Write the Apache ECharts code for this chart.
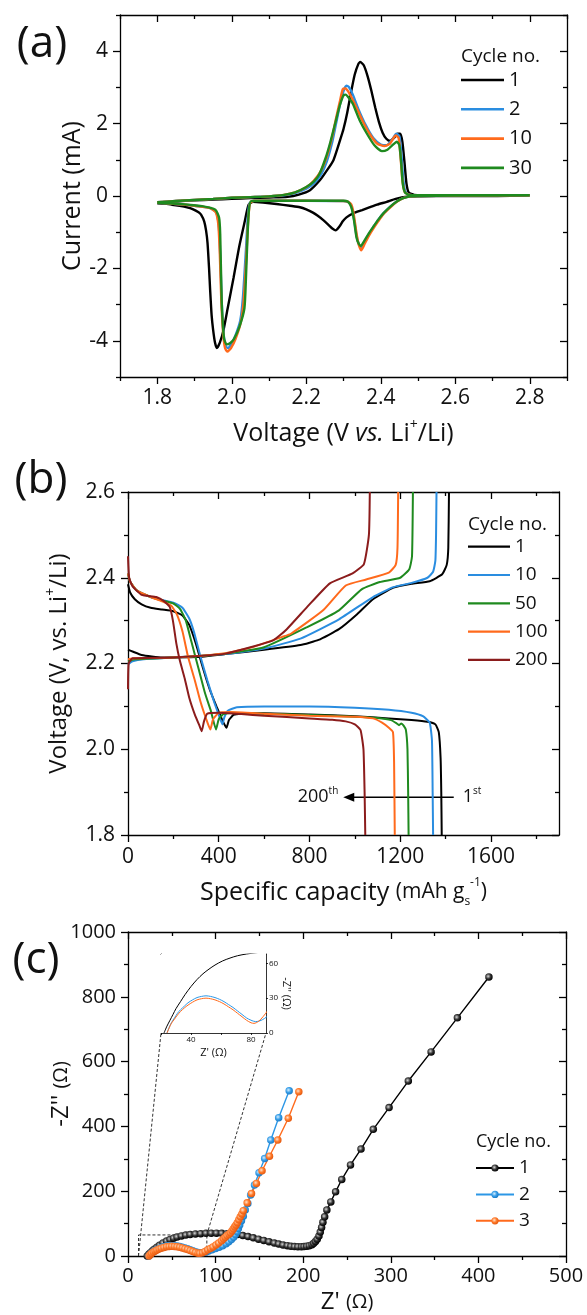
<!DOCTYPE html>
<html><head><meta charset="utf-8">
<script src="https://cdn.jsdelivr.net/npm/echarts@6/dist/echarts.min.js"></script>
<style>html,body{margin:0;padding:0;background:#fff}#c{width:587px;height:1315px}</style>
</head><body><div id="c"></div>
<script>
// ---------------- DATA ----------------
// (a) cyclic voltammetry: [voltage V, current mA]
const cvCycles = ['1', '2', '10', '30'];
const cv1 = [[1.8,-0.18],[1.85,-0.15],[1.9,-0.12],[1.95,-0.1],[2.0,-0.08],[2.05,-0.06],[2.1,-0.04],[2.15,-0.02],[2.18,0.04],[2.21,0.16],[2.237,0.44],[2.255,0.7],[2.273,0.99],[2.291,1.55],[2.30,1.85],[2.31,2.3],[2.32,2.85],[2.33,3.35],[2.34,3.65],[2.345,3.7],[2.355,3.6],[2.365,3.3],[2.375,2.9],[2.385,2.45],[2.395,2.05],[2.405,1.75],[2.415,1.58],[2.425,1.52],[2.435,1.6],[2.445,1.72],[2.452,1.72],[2.458,1.5],[2.464,0.9],[2.469,0.35],[2.475,0.1],[2.49,0.03],[2.55,0.02],[2.65,0.02],[2.8,0.02],
  [2.7,0.0],[2.6,0.0],[2.5,-0.01],[2.47,-0.02],[2.44,-0.08],[2.416,-0.16],[2.39,-0.24],[2.371,-0.31],[2.35,-0.39],[2.326,-0.48],[2.308,-0.59],[2.298,-0.7],[2.29,-0.83],[2.279,-0.95],[2.27,-0.9],[2.263,-0.83],[2.245,-0.66],[2.23,-0.54],[2.218,-0.46],[2.2,-0.37],[2.183,-0.31],[2.156,-0.27],[2.12,-0.22],[2.084,-0.18],[2.057,-0.16],[2.045,-0.25],[2.035,-0.7],[2.02,-1.4],[2.005,-2.25],[1.99,-3.05],[1.978,-3.7],[1.968,-4.05],[1.96,-4.2],[1.955,-4.05],[1.95,-3.7],[1.946,-3.3],[1.942,-2.6],[1.939,-1.98],[1.935,-1.3],[1.931,-0.95],[1.926,-0.7],[1.918,-0.52],[1.911,-0.45],[1.895,-0.36],[1.88,-0.31],[1.86,-0.27],[1.84,-0.24],[1.82,-0.21],[1.8,-0.2]];
const cv2 = [[1.8,-0.17],[1.85,-0.14],[1.9,-0.11],[1.95,-0.08],[2.0,-0.05],[2.05,-0.03],[2.1,-0.01],[2.14,0.02],[2.17,0.08],[2.2,0.2],[2.22,0.35],[2.24,0.6],[2.255,0.95],[2.27,1.5],[2.28,2.0],[2.29,2.5],[2.30,2.9],[2.308,3.05],[2.315,3.0],[2.325,2.8],[2.34,2.4],[2.36,1.95],[2.38,1.6],[2.40,1.42],[2.415,1.4],[2.43,1.55],[2.442,1.72],[2.45,1.65],[2.455,1.2],[2.46,0.5],[2.465,0.15],[2.475,0.04],[2.5,0.02],[2.65,0.02],[2.8,0.02],
  [2.6,0.01],[2.5,0.0],[2.48,-0.01],[2.46,-0.06],[2.443,-0.15],[2.425,-0.3],[2.407,-0.48],[2.393,-0.66],[2.38,-0.86],[2.368,-1.05],[2.357,-1.25],[2.347,-1.42],[2.34,-1.3],[2.335,-1.1],[2.33,-0.75],[2.325,-0.45],[2.32,-0.25],[2.312,-0.16],[2.3,-0.14],[2.2,-0.13],[2.1,-0.13],[2.06,-0.13],[2.048,-0.2],[2.043,-0.6],[2.038,-1.5],[2.03,-2.8],[2.023,-3.43],[2.01,-3.85],[1.998,-4.1],[1.99,-4.2],[1.984,-4.15],[1.978,-3.8],[1.973,-2.9],[1.969,-1.6],[1.965,-0.8],[1.958,-0.45],[1.94,-0.33],[1.9,-0.27],[1.85,-0.22],[1.8,-0.19]];
const cv10 = [[1.8,-0.17],[1.85,-0.14],[1.9,-0.11],[1.95,-0.08],[2.0,-0.05],[2.05,-0.03],[2.1,-0.01],[2.14,0.03],[2.17,0.1],[2.2,0.24],[2.22,0.42],[2.24,0.7],[2.255,1.08],[2.27,1.65],[2.28,2.15],[2.29,2.6],[2.298,2.95],[2.305,2.97],[2.315,2.85],[2.33,2.55],[2.35,2.1],[2.37,1.72],[2.39,1.45],[2.41,1.38],[2.425,1.45],[2.44,1.67],[2.448,1.6],[2.453,1.1],[2.458,0.45],[2.464,0.12],[2.475,0.04],[2.5,0.02],[2.65,0.02],[2.8,0.02],
  [2.6,0.01],[2.5,0.0],[2.48,-0.01],[2.46,-0.06],[2.443,-0.16],[2.425,-0.32],[2.407,-0.5],[2.393,-0.7],[2.38,-0.9],[2.368,-1.1],[2.357,-1.32],[2.348,-1.5],[2.341,-1.35],[2.336,-1.1],[2.331,-0.75],[2.326,-0.42],[2.32,-0.22],[2.31,-0.15],[2.3,-0.14],[2.2,-0.13],[2.1,-0.13],[2.06,-0.13],[2.049,-0.2],[2.044,-0.7],[2.039,-1.7],[2.032,-2.9],[2.024,-3.5],[2.01,-3.95],[1.998,-4.2],[1.988,-4.3],[1.982,-4.2],[1.977,-3.8],[1.972,-2.9],[1.968,-1.6],[1.964,-0.8],[1.957,-0.45],[1.94,-0.33],[1.9,-0.27],[1.85,-0.22],[1.8,-0.19]];
const cv30 = [[1.8,-0.17],[1.85,-0.14],[1.9,-0.11],[1.95,-0.08],[2.0,-0.05],[2.05,-0.03],[2.1,-0.01],[2.14,0.03],[2.17,0.1],[2.2,0.25],[2.22,0.4],[2.235,0.6],[2.252,1.05],[2.265,1.5],[2.28,2.1],[2.29,2.5],[2.3,2.78],[2.306,2.8],[2.315,2.7],[2.325,2.55],[2.343,2.1],[2.363,1.72],[2.383,1.4],[2.403,1.24],[2.418,1.28],[2.433,1.42],[2.443,1.5],[2.45,1.4],[2.455,0.9],[2.459,0.35],[2.465,0.1],[2.475,0.03],[2.5,0.02],[2.65,0.02],[2.8,0.02],
  [2.6,0.01],[2.5,0.0],[2.479,-0.01],[2.46,-0.06],[2.443,-0.15],[2.425,-0.3],[2.407,-0.48],[2.393,-0.66],[2.38,-0.85],[2.368,-1.03],[2.357,-1.22],[2.346,-1.38],[2.34,-1.3],[2.335,-1.15],[2.328,-0.66],[2.321,-0.31],[2.312,-0.16],[2.299,-0.13],[2.2,-0.13],[2.1,-0.13],[2.052,-0.14],[2.046,-0.4],[2.042,-1.2],[2.038,-2.3],[2.034,-3.1],[2.021,-3.6],[2.006,-3.95],[1.996,-4.06],[1.986,-4.1],[1.979,-3.92],[1.973,-2.9],[1.969,-1.05],[1.966,-0.6],[1.956,-0.38],[1.92,-0.28],[1.86,-0.22],[1.8,-0.185]];

// (b) galvanostatic profiles: [capacity mAh/g, voltage V]
const gcdCycles = ['1', '10', '50', '100', '200'];
const dis1 = [[0,2.385],[10,2.365],[30,2.35],[60,2.338],[100,2.33],[150,2.326],[200,2.322],[240,2.312],[270,2.29],[300,2.245],[330,2.19],[360,2.14],[390,2.1],[410,2.075],[425,2.058],[434,2.05],[445,2.068],[465,2.08],[500,2.083],[600,2.084],[800,2.081],[1000,2.077],[1150,2.072],[1250,2.068],[1320,2.064],[1355,2.058],[1370,2.04],[1378,1.98],[1381,1.9],[1383,1.8]];
const chg1 = [[0,2.232],[20,2.228],[60,2.22],[150,2.214],[300,2.215],[430,2.222],[600,2.232],[760,2.243],[840,2.255],[930,2.28],[1010,2.315],[1080,2.35],[1170,2.377],[1250,2.386],[1330,2.392],[1385,2.408],[1405,2.43],[1412,2.47],[1415,2.6]];
const dis10 = [[0,2.41],[10,2.39],[40,2.37],[100,2.355],[150,2.348],[200,2.342],[240,2.33],[270,2.305],[290,2.275],[320,2.215],[350,2.16],[380,2.11],[400,2.08],[416,2.058],[425,2.075],[440,2.09],[480,2.098],[600,2.1],[800,2.1],[1000,2.097],[1150,2.092],[1250,2.085],[1300,2.077],[1330,2.062],[1340,2.02],[1343,1.9],[1345,1.8]];
const chg10 = [[0,2.198],[20,2.205],[70,2.21],[200,2.214],[430,2.222],[600,2.235],[760,2.258],[930,2.303],[1080,2.355],[1170,2.378],[1250,2.388],[1320,2.4],[1345,2.414],[1355,2.44],[1358,2.5],[1360,2.6]];
const dis50 = [[0,2.41],[10,2.39],[40,2.37],[100,2.355],[150,2.347],[200,2.34],[230,2.327],[255,2.3],[280,2.25],[310,2.19],[340,2.13],[365,2.09],[388,2.046],[400,2.07],[420,2.082],[460,2.085],[600,2.083],[800,2.08],[1000,2.076],[1100,2.073],[1160,2.068],[1185,2.06],[1195,2.056],[1205,2.06],[1215,2.055],[1225,2.045],[1232,2.0],[1235,1.9],[1237,1.8]];
const chg50 = [[0,2.205],[30,2.21],[200,2.214],[430,2.223],[600,2.238],[790,2.285],[930,2.324],[1030,2.373],[1110,2.39],[1200,2.4],[1240,2.42],[1252,2.45],[1256,2.6]];
const dis100 = [[0,2.41],[10,2.39],[40,2.37],[100,2.355],[150,2.345],[190,2.335],[215,2.315],[240,2.275],[265,2.215],[295,2.16],[320,2.11],[345,2.07],[363,2.046],[375,2.07],[400,2.085],[450,2.087],[600,2.083],[800,2.078],[1000,2.076],[1080,2.072],[1120,2.062],[1150,2.05],[1168,2.04],[1173,1.97],[1176,1.8]];
const chg100 = [[0,2.21],[30,2.212],[200,2.214],[430,2.224],[560,2.24],[680,2.262],[720,2.27],[860,2.324],[960,2.382],[1050,2.396],[1150,2.412],[1180,2.43],[1188,2.47],[1191,2.6]];
const dis200 = [[0,2.45],[5,2.4],[20,2.38],[60,2.36],[125,2.355],[160,2.345],[184,2.332],[198,2.3],[213,2.247],[228,2.208],[250,2.165],[270,2.12],[295,2.08],[315,2.055],[325,2.042],[335,2.065],[350,2.083],[400,2.085],[500,2.082],[600,2.078],[800,2.072],[900,2.069],[960,2.065],[1000,2.058],[1025,2.045],[1038,2.0],[1043,1.9],[1046,1.8]];
const chg200 = [[0,2.14],[3,2.2],[20,2.212],[200,2.214],[430,2.223],[640,2.254],[700,2.28],[790,2.332],[890,2.387],[990,2.41],[1040,2.432],[1062,2.5],[1066,2.6]];

// (c) Nyquist plots: [Z' ohm, -Z'' ohm]
const eisCycles = ['1', '2', '3'];
const eis1 = [[22,0],[24,6],[26,11],[28,16],[30,21],[33,27],[36,33],[40,40],[44,46],[48,51],[52,55],[56,58.5],[61,62],[66,64.5],[71,66.5],[77,68],[83,69],[89,70],[95,70.5],[101,70.5],[107,70],[113,69],[119,68],[125,66],[131,63],[137,60],[143,56],[149,52],[155,48],[161,44],[167,40],[172,37],[177,34],[182,32],[186,30],[190,29],[194,28.5],[198,28.5],[201,29],[204,30],[207,32],[210,35],[212,39],[214,45],[216,52],[218,62],[219.5,74],[221,88],[222.5,104],[224.5,121],[227,142],[231.5,167],[237,198],[244,236],[254,281],[266,330],[280,391],[298,458],[320,540],[346,630],[376,735],[412,861]];
const eis2 = [[24,0],[25.5,5],[27,9],[29,13],[31,17],[33,20],[35.5,23],[38,26],[41,28.5],[44,30.5],[47,31.5],[50,32],[53,31.5],[56,30.5],[59,29],[62,27],[65,24.5],[68,22],[71,19],[74,16],[77,13],[80,11],[83,9.8],[86,10.5],[89,12.5],[92,15.5],[96,19],[100,23],[104,27],[108,32],[112,38],[115,44],[118,51],[120.5,58],[122.5,66],[124.5,75],[126,85],[127.5,96],[129.5,109],[131.6,123],[133.8,142],[136.8,162],[140,188],[144.4,219],[149.6,257],[156,301],[163,358],[172,427],[184,510]];
const eis3 = [[24,0],[25.5,4.5],[27,8.5],[29,12],[31,15.5],[33,18.5],[35.5,21.5],[38,24],[41,26.5],[44,28.5],[47,29.5],[50,30],[53,29.5],[56,28.5],[59,27],[62,25],[65,22.5],[68,20],[71,17],[74,14],[77,11],[80,8.8],[82,8.3],[85,10],[88,14],[91,19],[94,23.5],[97,28],[100.4,34],[103.5,40],[106.8,47],[109,53],[111,58],[113,63],[115.4,67],[117,72],[118.8,78],[120.3,84],[121.8,90],[123.3,96],[124.8,103],[126.5,112],[128.2,121],[130,130],[131.6,140],[136,164],[141,193],[146.6,224],[153,263],[161.5,308],[171,358],[183,425],[195,507]];

// tick values
const aXTicks = [1.8, 2.0, 2.2, 2.4, 2.6, 2.8], aXMinor = [1.7, 1.9, 2.1, 2.3, 2.5, 2.7, 2.9];
const aYTicks = [-4, -2, 0, 2, 4], aYMinor = [-5, -3, -1, 1, 3, 5];
const bXTicks = [0, 400, 800, 1200, 1600], bXMinor = [200, 600, 1000, 1400, 1800];
const bYTicks = [1.8, 2.0, 2.2, 2.4, 2.6], bYMinor = [1.9, 2.1, 2.3, 2.5];
const cXTicks = [0, 100, 200, 300, 400, 500], cXMinor = [50, 150, 250, 350, 450];
const cYTicks = [0, 200, 400, 600, 800, 1000], cYMinor = [100, 300, 500, 700, 900];
const insXTicks = [20, 40, 60, 80], insXLabels = [40, 80], insYTicks = [0, 30, 60];

// annotations (data coordinates)
const arrowFrom = [1436, 1.888], arrowTo = [949, 1.888];
const zoomBox = [[12, 0], [12, 65], [90, 65], [90, 0]];

// ---------------- STYLE ----------------
const FONT = '"Open Sans", "DejaVu Sans", sans-serif';
const TXT = '#111';
const BLACK = '#000000', BLUE = '#2a8de0', ORANGE = '#ff6a1c', GREEN = '#1f8a1f', DRED = '#8b1c1c';
const LS = {color: '#000', width: 1.3};

const xAxes = [], yAxes = [];
function mkAxes(list, grid, dim, c) {
  const posA = dim === 'x' ? 'bottom' : 'left', posB = dim === 'x' ? 'top' : 'right';
  const base = {type: 'value', gridIndex: grid, min: c.min, max: c.max, splitLine: {show: false}, axisPointer: {show: false}};
  const idx = list.length;
  list.push(Object.assign({}, base, {
    position: posA,
    axisLine: {show: true, onZero: false, lineStyle: LS},
    axisTick: {show: true, inside: false, length: 7, customValues: c.major, lineStyle: LS},
    axisLabel: {show: true, customValues: c.major, margin: c.margin, fontSize: c.fs, fontFamily: FONT, color: TXT, formatter: c.fmt},
    name: c.name || '', nameLocation: 'middle', nameGap: c.nameGap || 0, nameMoveOverlap: false,
    nameRotate: dim === 'y' ? 90 : 0, nameTextStyle: c.nameStyle || {}
  }));
  list.push(Object.assign({}, base, {
    position: posA, axisLine: {show: false, onZero: false},
    axisTick: {show: true, inside: false, length: 4, customValues: c.minor, lineStyle: LS},
    axisLabel: {show: false}
  }));
  list.push(Object.assign({}, base, {
    position: posB, axisLine: {show: true, onZero: false, lineStyle: LS},
    axisTick: {show: true, inside: true, length: 7, customValues: c.major, lineStyle: LS},
    axisLabel: {show: false}
  }));
  list.push(Object.assign({}, base, {
    position: posB, axisLine: {show: false, onZero: false},
    axisTick: {show: true, inside: true, length: 4, customValues: c.minor, lineStyle: LS},
    axisLabel: {show: false}
  }));
  return idx;
}
function nameStyle(fs, rich) {
  const r = {};
  for (const k in rich) r[k] = Object.assign({fontFamily: FONT, color: TXT, fontSize: fs, lineHeight: fs + 6}, rich[k]);
  return {fontFamily: FONT, fontSize: fs, color: TXT, lineHeight: fs + 6, rich: r};
}
const f1 = v => v.toFixed(1), f0 = v => String(Math.round(v));

// panel (a)
const aX = mkAxes(xAxes, 0, 'x', {min: 1.7, max: 2.9, major: aXTicks, minor: aXMinor, fs: 21, margin: 11, fmt: f1,
  name: 'Voltage (V {it|vs.} Li{sup|+}/Li)', nameGap: 41,
  nameStyle: nameStyle(25, {it: {fontStyle: 'italic'}, sup: {fontSize: 14, verticalAlign: 'top'}})});
const aY = mkAxes(yAxes, 0, 'y', {min: -5, max: 5, major: aYTicks, minor: aYMinor, fs: 21, margin: 12, fmt: f0,
  name: 'Current (mA)', nameGap: 32, nameStyle: nameStyle(25, {})});
// panel (b)
const bX = mkAxes(xAxes, 1, 'x', {min: 0, max: 1900, major: bXTicks, minor: bXMinor, fs: 21, margin: 12, fmt: f0,
  name: 'Specific capacity {m|(mAh g}{sub|s}{sup|-1}{m|)}', nameGap: 42,
  nameStyle: nameStyle(25, {m: {fontSize: 21}, sub: {fontSize: 12, verticalAlign: 'bottom'}, sup: {fontSize: 12, verticalAlign: 'top'}})});
const bY = mkAxes(yAxes, 1, 'y', {min: 1.8, max: 2.6, major: bYTicks, minor: bYMinor, fs: 21, margin: 13, fmt: f1,
  name: 'Voltage (V, vs. Li{sup|+}/Li)', nameGap: 54,
  nameStyle: nameStyle(24, {sup: {fontSize: 14, verticalAlign: 'top'}})});
// panel (c)
const cX = mkAxes(xAxes, 2, 'x', {min: 0, max: 500, major: cXTicks, minor: cXMinor, fs: 20, margin: 10, fmt: f0,
  name: "Z' {m|(Ω)}", nameGap: 31, nameStyle: nameStyle(24, {m: {fontSize: 20}})});
const cY = mkAxes(yAxes, 2, 'y', {min: 0, max: 1000, major: cYTicks, minor: cYMinor, fs: 20, margin: 12, fmt: f0,
  name: "-Z'' {m|(Ω)}", nameGap: 52, nameStyle: nameStyle(24, {m: {fontSize: 20}})});
// inset
const thin = {color: '#000', width: 0.8};
const iX = xAxes.length;
xAxes.push({type: 'value', gridIndex: 3, min: 20, max: 90, position: 'bottom', splitLine: {show: false},
  axisLine: {show: true, onZero: false, lineStyle: thin},
  axisTick: {show: true, length: 2, customValues: insXTicks, lineStyle: thin},
  axisLabel: {show: true, customValues: insXLabels, fontSize: 8, margin: 3, fontFamily: FONT, color: TXT},
  name: "Z' (Ω)", nameLocation: 'middle', nameGap: 14, nameMoveOverlap: false, nameTextStyle: {fontSize: 11, fontFamily: FONT, color: TXT}});
xAxes.push({type: 'value', gridIndex: 3, min: 20, max: 90, position: 'top', splitLine: {show: false},
  axisLine: {show: true, onZero: false, lineStyle: thin}, axisTick: {show: false}, axisLabel: {show: false}});
const iY = yAxes.length;
yAxes.push({type: 'value', gridIndex: 3, min: 0, max: 68, position: 'right', splitLine: {show: false},
  axisLine: {show: true, onZero: false, lineStyle: thin},
  axisTick: {show: true, length: 2, customValues: insYTicks, lineStyle: thin},
  axisLabel: {show: true, customValues: insYTicks, fontSize: 8, margin: 3, fontFamily: FONT, color: TXT},
  name: "-Z'' (Ω)", nameLocation: 'middle', nameRotate: -90, nameGap: 15, nameMoveOverlap: false, nameTextStyle: {fontSize: 11, fontFamily: FONT, color: TXT}});
yAxes.push({type: 'value', gridIndex: 3, min: 0, max: 68, position: 'left', splitLine: {show: false},
  axisLine: {show: true, onZero: false, lineStyle: thin}, axisTick: {show: false}, axisLabel: {show: false}});

// ---------------- SERIES ----------------
const series = [];
const cvData = [cv1, cv2, cv10, cv30], cvColors = [BLACK, BLUE, ORANGE, GREEN];
cvCycles.forEach((c, i) => series.push({type: 'line', name: 'a|' + c, xAxisIndex: aX, yAxisIndex: aY, data: cvData[i],
  symbol: 'none', smooth: 0.2, lineStyle: {width: 2.4, color: cvColors[i]}, itemStyle: {color: cvColors[i]}}));

const gcdDis = [dis1, dis10, dis50, dis100, dis200], gcdChg = [chg1, chg10, chg50, chg100, chg200];
const gcdColors = [BLACK, BLUE, GREEN, ORANGE, DRED];
gcdCycles.forEach((c, i) => {
  [gcdDis[i], gcdChg[i]].forEach(d => series.push({type: 'line', name: 'b|' + c, xAxisIndex: bX, yAxisIndex: bY, data: d,
    symbol: 'none', smooth: 0.15, lineStyle: {width: 2, color: gcdColors[i]}, itemStyle: {color: gcdColors[i]}}));
});

const eisData = [eis1, eis2, eis3], eisColors = [BLACK, '#2c97e6', '#ff6a1c'];
const ball = [
  {type: 'radial', x: 0.4, y: 0.4, r: 0.6, colorStops: [{offset: 0, color: '#d8d8d8'}, {offset: 0.55, color: '#333'}, {offset: 1, color: '#000'}]},
  {type: 'radial', x: 0.4, y: 0.4, r: 0.6, colorStops: [{offset: 0, color: '#d6efff'}, {offset: 0.55, color: '#3a9fe8'}, {offset: 1, color: '#1b7cc8'}]},
  {type: 'radial', x: 0.4, y: 0.4, r: 0.6, colorStops: [{offset: 0, color: '#ffe3cc'}, {offset: 0.55, color: '#ff7a2a'}, {offset: 1, color: '#e55a10'}]}];
series.push({type: 'line', name: 'box', xAxisIndex: cX, yAxisIndex: cY, data: zoomBox, symbol: 'none', silent: true,
  lineStyle: {color: '#333', width: 1, type: [3, 2]}});
eisCycles.forEach((c, i) => series.push({type: 'line', name: 'c|' + c, xAxisIndex: cX, yAxisIndex: cY, data: eisData[i],
  symbol: 'circle', symbolSize: 7.5, lineStyle: {width: 1.4, color: eisColors[i]}, itemStyle: {color: ball[i]}}));
eisCycles.forEach((c, i) => series.push({type: 'line', name: 'i|' + c, xAxisIndex: iX, yAxisIndex: iY, data: eisData[i],
  symbol: 'none', clip: true, smooth: 0.3, lineStyle: {width: 1, color: eisColors[i]}, z: 5}));

const option = {
  animation: false,
  backgroundColor: '#fff',
  grid: [
    {left: 120, top: 15, width: 447, height: 362, outerBoundsMode: 'none'},
    {left: 128, top: 492, width: 431, height: 343, outerBoundsMode: 'none'},
    {left: 128, top: 932, width: 438, height: 324, outerBoundsMode: 'none'},
    {left: 161, top: 954, width: 105, height: 79, outerBoundsMode: 'none', show: true, backgroundColor: '#fff', borderWidth: 0, z: 4}
  ],
  xAxis: xAxes, yAxis: yAxes,
  legend: [{show: true, orient: 'vertical', left: 475, top: 1158, itemWidth: 38, itemHeight: 9, itemGap: 6.4,
    padding: 0, selectedMode: false, data: eisCycles.map(n => 'c|' + n), formatter: n => n.split('|')[1],
    textStyle: {fontFamily: FONT, fontSize: 19, color: TXT, lineHeight: 20}}],
  series: series
};

const chart = echarts.init(document.getElementById('c'), null, {renderer: 'canvas'});
chart.setOption(option);

// graphics that depend on converted positions
const pC = (pt) => chart.convertToPixel({xAxisIndex: cX, yAxisIndex: cY}, pt);
const pI = (pt) => chart.convertToPixel({xAxisIndex: iX, yAxisIndex: iY}, pt);
const pB = (pt) => chart.convertToPixel({xAxisIndex: bX, yAxisIndex: bY}, pt);
const a1 = pC(zoomBox[0]), a2 = pC(zoomBox[2]), b1 = pI([20, 0]), b2 = pI([90, 0]);
const tFrom = pB(arrowFrom), tTo = pB(arrowTo);
const dash = {stroke: '#333', lineWidth: 1, lineDash: [3, 2]};
const T = (text, x, y, size, align, rich) => ({type: 'text', x: x, y: y, silent: true,
  style: {text: text, fontSize: size, fontFamily: FONT, fill: TXT, align: align || 'left', verticalAlign: 'middle',
    textAlign: align || 'left', textVerticalAlign: 'middle', rich: rich || {}}});
const supRich = {s: {fontSize: 10, fontFamily: FONT, fill: TXT, verticalAlign: 'top', lineHeight: 22}};
const gfx = [
  {type: 'line', silent: true, shape: {x1: a1[0], y1: a1[1], x2: b1[0], y2: b1[1]}, style: dash},
  {type: 'line', silent: true, shape: {x1: a2[0], y1: a2[1], x2: b2[0], y2: b2[1]}, style: dash},
  {type: 'line', silent: true, shape: {x1: tFrom[0], y1: tFrom[1], x2: tTo[0] + 8, y2: tTo[1]}, style: {stroke: '#000', lineWidth: 1.3}},
  {type: 'polygon', silent: true, shape: {points: [[tTo[0], tTo[1]], [tTo[0] + 11, tTo[1] - 4.5], [tTo[0] + 11, tTo[1] + 4.5]]}, style: {fill: '#000'}},
  T('(a)', 42, 44, 44, 'center'),
  T('(b)', 41, 480, 44, 'center'),
  T('(c)', 36, 960, 44, 'center'),
  T('Cycle no.', 461, 57, 19),
  T('Cycle no.', 468, 525, 19),
  T('Cycle no.', 476, 1142, 18),
  T('200{s|th}', tTo[0] - 5, tFrom[1], 18, 'right', supRich),
  T('1{s|st}', tFrom[0] + 9, tFrom[1], 18, 'left', supRich)
];
// line-only legends for (a) and (b)
function lineLegend(names, colors, x, y0, step, w, lw, fs) {
  names.forEach((n, i) => {
    const y = y0 + i * step;
    gfx.push({type: 'line', silent: true, shape: {x1: x, y1: y, x2: x + w, y2: y}, style: {stroke: colors[i], lineWidth: lw}});
    gfx.push(T(n, x + w + 5, y, fs));
  });
}
lineLegend(cvCycles, cvColors, 461, 80, 29.3, 43, 2.6, 20);
lineLegend(gcdCycles, gcdColors, 468, 546.7, 28.3, 42, 2.2, 19);
chart.setOption({graphic: gfx});
</script></body></html>
